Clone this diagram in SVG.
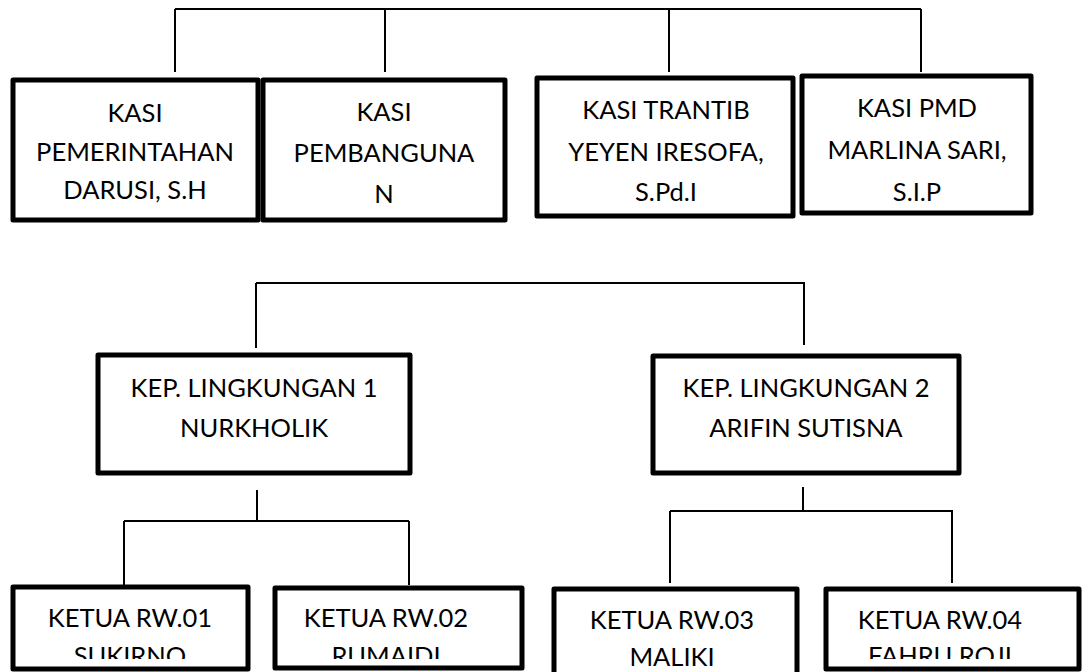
<svg xmlns="http://www.w3.org/2000/svg" width="1082" height="672" viewBox="0 0 1082 672">
<style>
.box{fill:#fff;stroke:#000;stroke-width:5;stroke-linejoin:round}
.t{font-family:Lato,"Liberation Sans",sans-serif;font-size:25.5px;text-anchor:middle;fill:#000}
.c{stroke:#000;stroke-width:2;fill:none}
</style>
<defs>
<clipPath id="clipS4"><rect x="803" y="76" width="228" height="129"/></clipPath>
<clipPath id="clipR1"><rect x="13" y="587" width="235" height="72"/></clipPath>
<clipPath id="clipR2"><rect x="275" y="587" width="247" height="72"/></clipPath>
<clipPath id="clipR4"><rect x="826" y="587" width="253" height="72"/></clipPath>
</defs>
<rect width="1082" height="672" fill="#fff"/>
<g id="connectors">
<path class="c" d="M175,9 H921 M175,9 V72 M385,9 V72 M669,9 V72 M921,9 V72"/>
<path class="c" d="M256,283 H805 M256,283 V348 M804,283 V345"/>
<path class="c" d="M257,490 V521 M124,521 H409 M124,521 V586 M409,521 V585"/>
<path class="c" d="M803,487 V511 M670,511 H953 M670,511 V583 M952,511 V583"/>
</g>
<g id="kasi-pemerintahan">
<rect class="box" x="13" y="80" width="245" height="140"/>
<text class="t" x="135" y="122">KASI</text>
<text class="t" x="135" y="161">PEMERINTAHAN</text>
<text class="t" x="135" y="199">DARUSI, S.H</text>
</g>
<g id="kasi-pembangunan">
<rect class="box" x="263" y="80" width="242" height="140"/>
<text class="t" x="384" y="121">KASI</text>
<text class="t" x="384" y="162">PEMBANGUNA</text>
<text class="t" x="384" y="203">N</text>
</g>
<g id="kasi-trantib">
<rect class="box" x="537" y="78" width="256" height="138"/>
<text class="t" x="666" y="119">KASI TRANTIB</text>
<text class="t" x="666" y="161">YEYEN IRESOFA,</text>
<text class="t" x="666" y="201">S.Pd.I</text>
</g>
<g id="kasi-pmd">
<rect class="box" x="802" y="76" width="229" height="137"/>
<text class="t" x="917" y="117">KASI PMD</text>
<text class="t" x="917" y="159">MARLINA SARI,</text>
<text class="t" x="917" y="201" clip-path="url(#clipS4)">S.I.P</text>
</g>
<g id="kep-lingkungan-1">
<rect class="box" x="98" y="355" width="312" height="118"/>
<text class="t" x="254" y="397">KEP. LINGKUNGAN 1</text>
<text class="t" x="254" y="437">NURKHOLIK</text>
</g>
<g id="kep-lingkungan-2">
<rect class="box" x="653" y="356" width="306" height="117"/>
<text class="t" x="806" y="397">KEP. LINGKUNGAN 2</text>
<text class="t" x="806" y="437">ARIFIN SUTISNA</text>
</g>
<g id="rw01">
<rect class="box" x="13" y="587" width="235" height="82"/>
<text class="t" x="130" y="627">KETUA RW.01</text>
<text class="t" x="130" y="665" clip-path="url(#clipR1)">SUKIRNO</text>
</g>
<g id="rw02">
<rect class="box" x="275" y="588" width="247" height="80"/>
<text class="t" x="386" y="627">KETUA RW.02</text>
<text class="t" x="386" y="665" clip-path="url(#clipR2)">RUMAIDI</text>
</g>
<g id="rw03">
<rect class="box" x="554" y="589" width="243" height="90"/>
<text class="t" x="672" y="629">KETUA RW.03</text>
<text class="t" x="672" y="666">MALIKI</text>
</g>
<g id="rw04">
<rect class="box" x="826" y="589" width="253" height="80"/>
<text class="t" x="940" y="629">KETUA RW.04</text>
<text class="t" x="940" y="665" clip-path="url(#clipR4)">FAHRU ROJI</text>
</g>
</svg>
